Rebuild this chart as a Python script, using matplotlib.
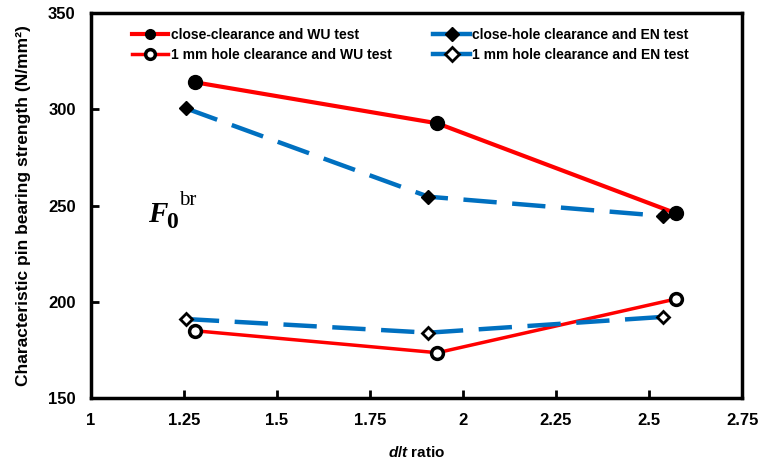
import matplotlib
matplotlib.use('Agg')
import matplotlib.pyplot as plt

plt.rcParams['font.family'] = ['Liberation Sans', 'DejaVu Sans']
plt.rcParams['font.weight'] = 'bold'
plt.rcParams['mathtext.fontset'] = 'custom'
plt.rcParams['mathtext.it'] = 'Liberation Sans:italic:bold'
plt.rcParams['mathtext.rm'] = 'Liberation Sans:bold'

# data
x_wu = [1.28, 1.931, 2.572]
x_en = [1.255, 1.907, 2.537]
close_wu = [314.0, 292.7, 246.0]
close_en = [300.5, 254.6, 244.6]
mm1_wu = [185.0, 173.6, 201.5]
mm1_en = [191.1, 184.0, 192.2]

labels = ['close-clearance and WU test',
          'close-hole clearance and EN test',
          '1 mm hole clearance and WU test',
          '1 mm hole clearance and EN test']
xticks = [1, 1.25, 1.5, 1.75, 2, 2.25, 2.5, 2.75]
yticks = [150, 200, 250, 300, 350]

red = '#FF0000'
blue = '#0070C0'

fig = plt.figure(figsize=(7.58, 4.63), dpi=100)
ax = fig.add_axes([0.120, 0.140, 0.859, 0.832])

l1, = ax.plot(x_wu, close_wu, color=red, lw=3, marker='o', ms=10,
              mfc='black', mec='black', zorder=3)
l2, = ax.plot(x_en, close_en, color=blue, lw=3.2, dashes=(7.5, 3.5),
              marker='D', ms=7.5, mfc='black', mec='black', zorder=3)
l3, = ax.plot(x_wu, mm1_wu, color=red, lw=2.5, marker='o', ms=8.5,
              mfc='white', mec='black', mew=2.5, zorder=3)
l4, = ax.plot(x_en, mm1_en, color=blue, lw=3.2, dashes=(7.5, 3.5),
              marker='D', ms=6.5, mfc='white', mec='black', mew=2, zorder=3)

leg = ax.legend([l1, l3, l2, l4], [labels[0], labels[2], labels[1], labels[3]],
                ncol=2, loc='upper left', bbox_to_anchor=(0.0625, 0.962),
                frameon=False, fontsize=10, handlelength=2.64, handletextpad=0.17,
                columnspacing=3.0, labelspacing=0.45, borderaxespad=0, borderpad=0)
for h in leg.get_lines():
    h.set_markersize(7)
    h.set_linestyle('-')

# F_0^br annotation
ax.text(1.153, 241.4, 'F', fontsize=21, family='Liberation Serif',
        style='italic', weight='bold', va='baseline')
ax.text(1.203, 238.3, '0', fontsize=17, family='Liberation Serif',
        weight='bold', va='baseline')
ax.text(1.238, 250.3, 'br', fontsize=15, family='Liberation Serif',
        weight='normal', va='baseline')

ax.set_xlim(1, 2.75)
ax.set_ylim(150, 350)
ax.set_xticks(xticks)
ax.set_xticklabels([f'{t:g}' for t in xticks])
ax.set_yticks(yticks)

for s in ax.spines.values():
    s.set_linewidth(2.5)
ax.tick_params(direction='in', length=6, width=2, labelsize=12)
ax.tick_params(axis='x', pad=11)
ax.tick_params(axis='y', pad=11)

ax.set_xlabel(r'$d/t$ ratio', fontsize=11, fontweight='bold', labelpad=12)
ax.set_ylabel('Characteristic pin bearing strength (N/mm²)', fontsize=12.5,
              fontweight='bold', labelpad=12)

fig.savefig('out.png', dpi=100)
